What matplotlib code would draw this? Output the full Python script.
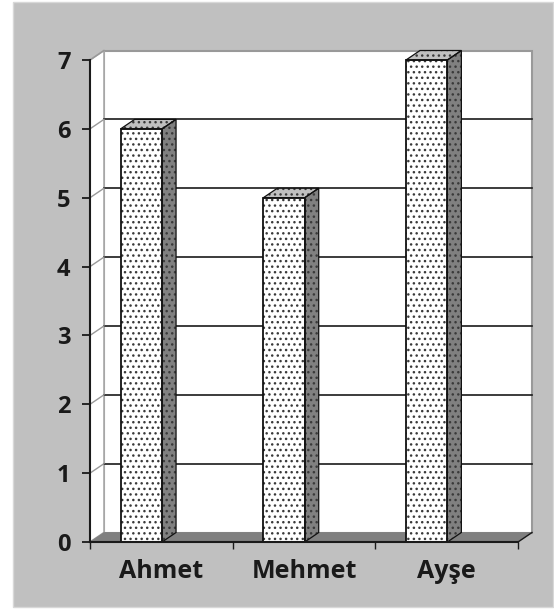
import matplotlib
matplotlib.use("Agg")
import matplotlib.pyplot as plt
from matplotlib.patches import Polygon, Rectangle

categories = ["Ahmet", "Mehmet", "Ayşe"]
values = [6, 5, 7]
y_ticks = [0, 1, 2, 3, 4, 5, 6, 7]

W, H = 554, 609
BG = "#c0c0c0"
DOT = "#3a3a3a"
LINE = "#1a1a1a"
plt.rcParams["font.family"] = ["Open Sans", "DejaVu Sans"]
plt.rcParams["hatch.linewidth"] = 1.0

fig = plt.figure(figsize=(W / 100, H / 100), dpi=100, facecolor="white")
# grey panel inside the white border of the scan
fig.add_artist(Rectangle((13 / W, 2 / H), 540 / W, 605 / H, transform=fig.transFigure,
                         fc=BG, ec="#d8d8d8", lw=1.0, zorder=-1))

# front plane of the fake 3D box
ax = fig.add_axes([90 / W, 1 - 542 / H, 428 / W, 482 / H])
ax.set_xlim(-0.5, 2.5)
ax.set_ylim(0, 7)
ax.patch.set_visible(False)
for s in ax.spines.values():
    s.set_visible(False)

# depth of the box in data units
dx = 14 / 142.7
dy = 9.5 / 68.9
bar_w = 0.29
bar_shift = -0.14

# back wall and side wall
ax.add_patch(Rectangle((-0.5 + dx, dy), 3, 7, fc="white", ec="#999999", lw=1.5, clip_on=False, zorder=1))
ax.add_patch(Polygon([(-0.5, 0), (-0.5 + dx, dy), (-0.5 + dx, 7 + dy), (-0.5, 7)],
                     fc="white", ec="#aaaaaa", lw=1.2, clip_on=False, zorder=1))
# floor
ax.add_patch(Polygon([(-0.5, 0), (-0.5 + dx, dy), (2.5 + dx, dy), (2.5, 0)],
                     fc="#808080", ec="#808080", lw=0.5, clip_on=False, zorder=2))

# gridlines on the back wall, with the slanted bit on the side wall
for t in y_ticks[1:-1]:
    ax.plot([-0.5 + dx, 2.5 + dx], [t + dy, t + dy], color=LINE, lw=1.2, clip_on=False, zorder=2)
for t in y_ticks[1:]:
    ax.plot([-0.5, -0.5 + dx], [t, t + dy], color="#999999", lw=1.0, clip_on=False, zorder=2)


def dotted(pts, face, lw):
    # dots in grey first, dark outline over them
    ax.add_patch(Polygon(pts, fc=face, ec=DOT, lw=0, hatch="...", clip_on=False, zorder=3))
    ax.add_patch(Polygon(pts, fc="none", ec="#111111", lw=lw, clip_on=False, zorder=4))


# bars
for i, v in enumerate(values):
    x0 = i + bar_shift - bar_w / 2
    x1 = x0 + bar_w
    dotted([(x0, v), (x0 + dx, v + dy), (x1 + dx, v + dy), (x1, v)], "#c0c0c0", 0.9)
    dotted([(x1, 0), (x1 + dx, dy), (x1 + dx, v + dy), (x1, v)], "#808080", 0.9)
    dotted([(x0, 0), (x0, v), (x1, v), (x1, 0)], "white", 1.3)

# axes lines on top
ax.plot([-0.5, -0.5], [0, 7], color=LINE, lw=1.5, clip_on=False, zorder=5)
ax.plot([-0.5, 2.5], [0, 0], color=LINE, lw=1.5, clip_on=False, zorder=5)
ax.plot([2.5, 2.5 + dx], [0, dy], color=LINE, lw=1.0, clip_on=False, zorder=5)

ax.set_yticks(y_ticks)
ax.set_xticks([-0.5, 0.5, 1.5, 2.5])
ax.set_xticklabels([])
ax.tick_params(axis="y", length=6, width=1.3, color=LINE, labelsize=17, pad=8, labelcolor=LINE)
ax.tick_params(axis="x", length=5, width=1.0, color=LINE)
for label in ax.get_yticklabels():
    label.set_fontweight("bold")

for i, c in enumerate(categories):
    ax.annotate(c, (i, 0), xytext=(0, -29), textcoords="offset pixels", ha="center", va="center",
                fontsize=18, fontweight="bold", color=LINE, annotation_clip=False)

fig.savefig("out.png", dpi=100, facecolor="white")
